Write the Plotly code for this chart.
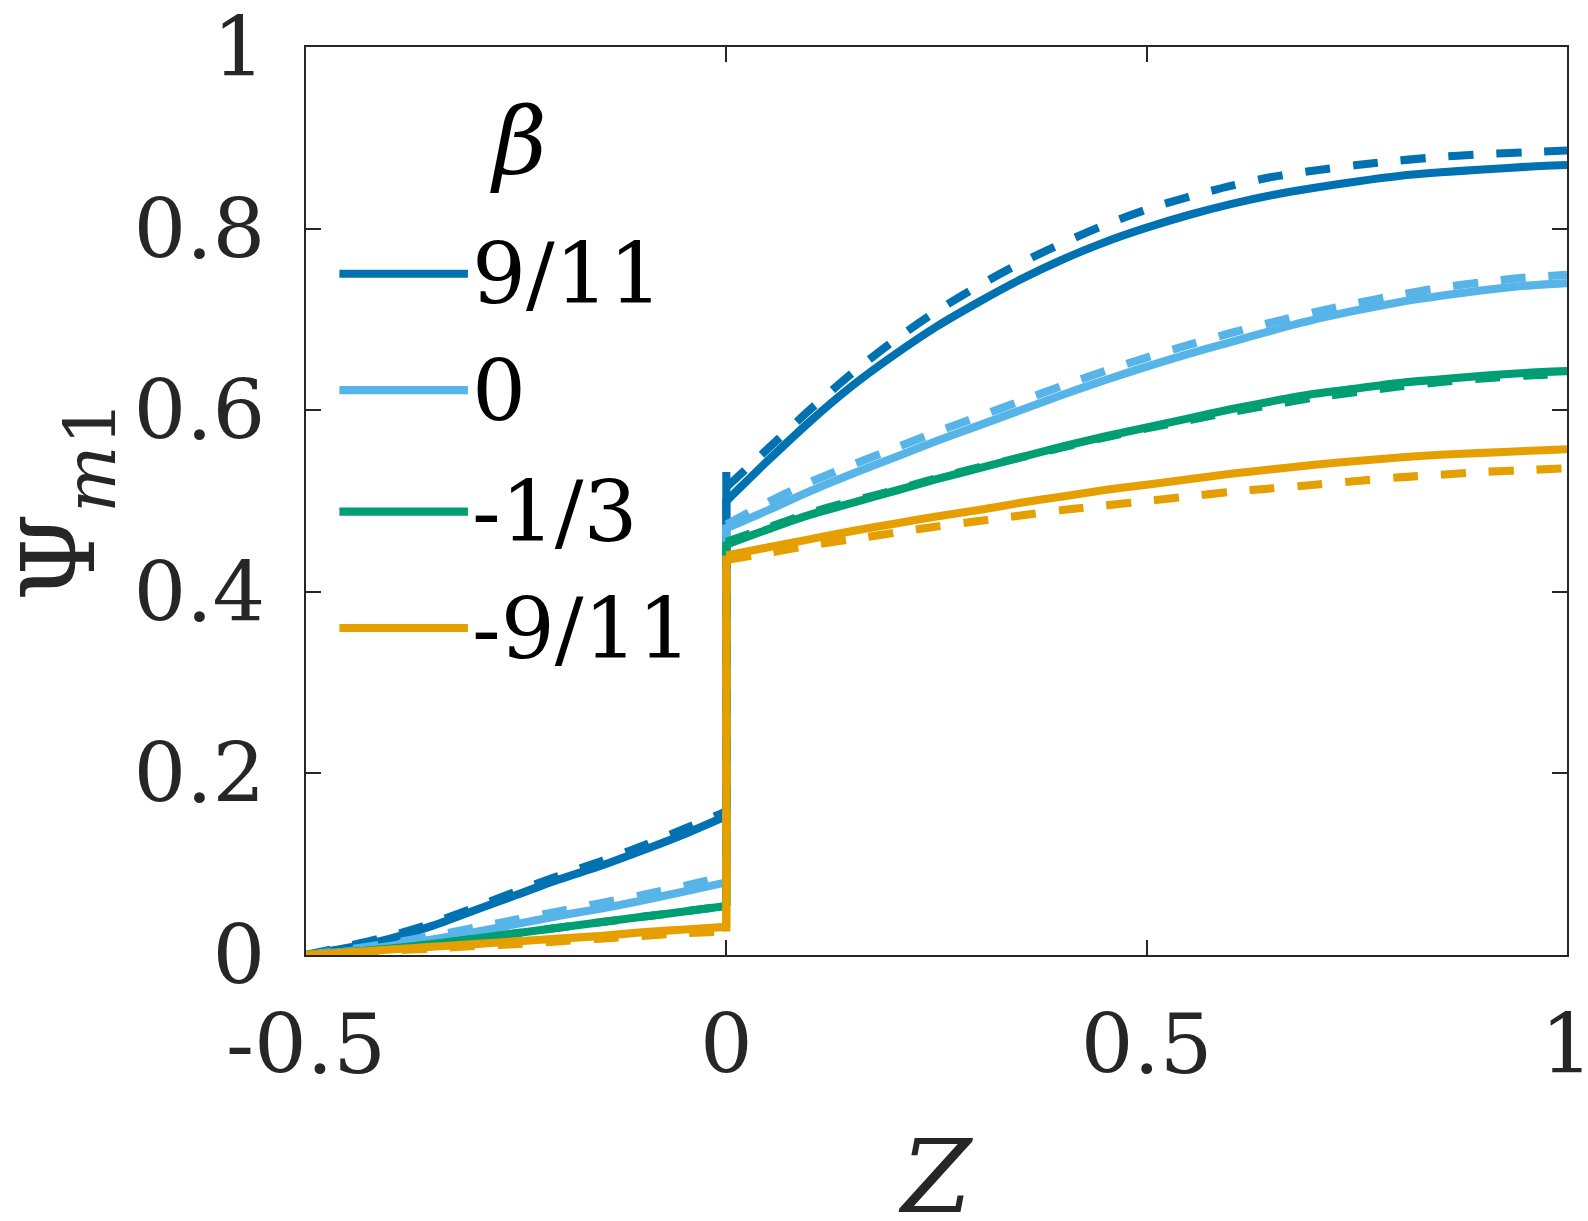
import plotly.graph_objects as go

# ---------------- data ----------------
z_left = [-0.5, -0.45, -0.4, -0.35, -0.3, -0.25, -0.2, -0.15, -0.1, -0.05, 0.0]
z_right = [0.0, 0.05, 0.1, 0.15, 0.2, 0.25, 0.3, 0.35, 0.4, 0.45, 0.5,
           0.55, 0.6, 0.65, 0.7, 0.75, 0.8, 0.85, 0.9, 0.95, 1.0]

beta_labels = ["9/11", "0", "-1/3", "-9/11"]
colors = ["#0072B2", "#56B4E9", "#009E73", "#E69F00"]

# solid curves (Z < 0 and Z > 0 branches)
solid_left_911 = [0.0, 0.008, 0.018, 0.032, 0.049, 0.066, 0.083, 0.098, 0.115, 0.133, 0.153]
solid_right_911 = [0.500, 0.545, 0.588, 0.627, 0.661, 0.692, 0.719, 0.744, 0.766, 0.785, 0.801,
                   0.815, 0.827, 0.837, 0.845, 0.852, 0.858, 0.862, 0.865, 0.868, 0.870]
solid_left_0 = [0.0, 0.004, 0.010, 0.017, 0.025, 0.034, 0.043, 0.051, 0.060, 0.070, 0.080]
solid_right_0 = [0.470, 0.490, 0.511, 0.530, 0.548, 0.566, 0.583, 0.600, 0.617, 0.633, 0.648,
                 0.662, 0.675, 0.688, 0.700, 0.710, 0.719, 0.726, 0.732, 0.737, 0.740]
solid_left_m13 = [0.0, 0.003, 0.007, 0.012, 0.018, 0.024, 0.030, 0.036, 0.042, 0.048, 0.054]
solid_right_m13 = [0.452, 0.469, 0.485, 0.498, 0.511, 0.524, 0.536, 0.548, 0.560, 0.571, 0.581,
                   0.591, 0.601, 0.610, 0.618, 0.624, 0.630, 0.634, 0.638, 0.641, 0.643]
solid_left_m911 = [0.0, 0.003, 0.006, 0.009, 0.012, 0.015, 0.018, 0.021, 0.025, 0.028, 0.031]
solid_right_m911 = [0.440, 0.449, 0.458, 0.467, 0.475, 0.483, 0.490, 0.498, 0.505, 0.512, 0.518,
                    0.524, 0.530, 0.535, 0.540, 0.544, 0.548, 0.551, 0.553, 0.555, 0.557]
# top of the vertical jump at Z = 0 (blue shows a small spike)
solid_jump_top = [0.532, 0.472, 0.455, 0.440]

# dashed curves
dash_left_911 = [0.0, 0.010, 0.021, 0.035, 0.052, 0.070, 0.087, 0.103, 0.120, 0.139, 0.158]
dash_right_911 = [0.515, 0.558, 0.601, 0.641, 0.677, 0.709, 0.737, 0.762, 0.784, 0.804, 0.821,
                  0.835, 0.847, 0.857, 0.864, 0.870, 0.875, 0.879, 0.882, 0.884, 0.886]
dash_left_0 = [0.0, 0.006, 0.013, 0.021, 0.030, 0.039, 0.048, 0.057, 0.066, 0.076, 0.087]
dash_right_0 = [0.474, 0.499, 0.521, 0.540, 0.558, 0.576, 0.593, 0.610, 0.627, 0.643, 0.658,
                0.672, 0.685, 0.697, 0.708, 0.718, 0.727, 0.735, 0.741, 0.746, 0.749]
dash_left_m13 = [0.0, 0.003, 0.007, 0.012, 0.018, 0.024, 0.030, 0.036, 0.042, 0.048, 0.054]
dash_right_m13 = [0.455, 0.471, 0.487, 0.500, 0.512, 0.525, 0.537, 0.548, 0.559, 0.570, 0.580,
                  0.589, 0.598, 0.606, 0.614, 0.620, 0.626, 0.631, 0.635, 0.638, 0.640]
dash_left_m911 = [0.0, 0.002, 0.005, 0.007, 0.010, 0.012, 0.015, 0.018, 0.021, 0.024, 0.026]
dash_right_m911 = [0.435, 0.443, 0.451, 0.458, 0.465, 0.472, 0.478, 0.484, 0.490, 0.495, 0.500,
                   0.505, 0.510, 0.514, 0.518, 0.522, 0.526, 0.529, 0.532, 0.534, 0.536]

x_ticks = [-0.5, 0, 0.5, 1]
x_ticklabels = ["-0.5", "0", "0.5", "1"]
y_ticks = [0, 0.2, 0.4, 0.6, 0.8, 1]
y_ticklabels = ["0", "0.2", "0.4", "0.6", "0.8", "1"]

solid_series = [
    (solid_left_911, solid_right_911),
    (solid_left_0, solid_right_0),
    (solid_left_m13, solid_right_m13),
    (solid_left_m911, solid_right_m911),
]
dash_series = [
    (dash_left_911, dash_right_911),
    (dash_left_0, dash_right_0),
    (dash_left_m13, dash_right_m13),
    (dash_left_m911, dash_right_m911),
]

# ---------------- figure ----------------
S = 1.012  # compensates the slight down-scaling of the photographed page
def s(v):
    return v * S

W, H = 1588, 1221
ML, MR, MT, MB = 302, 40, 46, 278
FONT = "DejaVu Serif"
AX = "#262626"
LW = s(8)
DASH = "%dpx,%dpx" % (round(s(25)), round(s(23)))

fig = go.Figure()
for (sl, sr), (dl, dr), top, col in zip(solid_series, dash_series, solid_jump_top, colors):
    fig.add_trace(go.Scatter(x=z_left, y=dl, mode="lines", line_shape="spline",
                             line=dict(color=col, width=LW, dash=DASH, smoothing=0.8),
                             showlegend=False))
    fig.add_trace(go.Scatter(x=[z_left[-1], z_right[0]], y=[dl[-1], dr[0]], mode="lines",
                             line=dict(color=col, width=LW, dash=DASH), showlegend=False))
    fig.add_trace(go.Scatter(x=z_right, y=dr, mode="lines", line_shape="spline",
                             line=dict(color=col, width=LW, dash=DASH, smoothing=0.8),
                             showlegend=False))
    fig.add_trace(go.Scatter(x=z_left, y=sl, mode="lines", line_shape="spline",
                             line=dict(color=col, width=LW, smoothing=0.8), showlegend=False))
    fig.add_trace(go.Scatter(x=[z_left[-1], z_right[0]], y=[sl[-1], top], mode="lines",
                             line=dict(color=col, width=LW), showlegend=False))
    fig.add_trace(go.Scatter(x=z_right, y=sr, mode="lines", line_shape="spline",
                             line=dict(color=col, width=LW, smoothing=0.8), showlegend=False))

axis_common = dict(
    showgrid=False, zeroline=False, showline=True, linecolor=AX, linewidth=s(2),
    mirror="ticks", ticks="inside", ticklen=s(15), tickwidth=s(2), tickcolor=AX,
    tickfont=dict(family=FONT, size=s(82), color=AX),
    ticklabeloverflow="allow",
)
fig.update_xaxes(range=[-0.5, 1], tickvals=x_ticks, ticktext=x_ticklabels,
                 ticklabelstandoff=round(s(16)),
                 title=dict(text="<i>Z</i>", font=dict(family=FONT, size=s(100), color=AX),
                            standoff=s(50)),
                 **axis_common)
fig.update_yaxes(range=[0, 1], tickvals=y_ticks, ticktext=y_ticklabels,
                 ticklabelstandoff=round(s(22)),
                 title=dict(text="Ψ<sub><i>m</i>1</sub>",
                            font=dict(family=FONT, size=s(100), color=AX), standoff=s(14)),
                 **axis_common)

# ---------------- manual legend ----------------
pw = W - ML - MR
ph = H - MT - MB
def px2paper_x(px):
    return (px - ML) / pw
def px2paper_y(py):
    return (H - MB - py) / ph

legend_rows_px = [270, 385, 505, 620]
for lab, col, ry in zip(beta_labels, colors, legend_rows_px):
    yy = px2paper_y(ry)
    fig.add_shape(type="line", xref="paper", yref="paper",
                  x0=px2paper_x(335), x1=px2paper_x(462), y0=yy, y1=yy,
                  line=dict(color=col, width=LW))
    fig.add_annotation(xref="paper", yref="paper", x=px2paper_x(464), y=yy,
                       text=lab, showarrow=False, xanchor="left", yanchor="middle",
                       font=dict(family=FONT, size=s(84), color="black"))
fig.add_annotation(xref="paper", yref="paper", x=px2paper_x(512), y=px2paper_y(140),
                   text="<i>β</i>", showarrow=False, xanchor="center", yanchor="middle",
                   font=dict(family=FONT, size=s(92), color="black"))

fig.update_layout(
    width=round(s(W)), height=round(s(H)),
    margin=dict(l=s(ML), r=s(MR), t=s(MT), b=s(MB), autoexpand=False),
    plot_bgcolor="white", paper_bgcolor="white",
    showlegend=False,
)

fig.write_html("out.html", config={"displayModeBar": False},
               post_script="document.body.style.margin='0';document.body.style.overflow='hidden';")
